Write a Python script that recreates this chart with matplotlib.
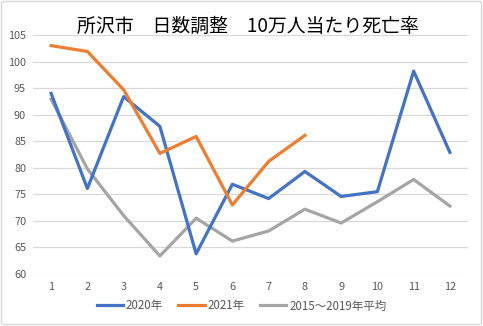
import matplotlib
matplotlib.use("Agg")
import matplotlib.pyplot as plt
from matplotlib.patches import FancyBboxPatch

plt.rcParams['font.family'] = ['Noto Sans CJK JP', 'DejaVu Sans']

months = list(range(1, 13))
tick_labels = [str(m) for m in months]
y2020 = [94.0, 76.1, 93.4, 87.8, 63.8, 76.9, 74.2, 79.3, 74.6, 75.5, 98.2, 82.9]
months2021 = [1, 2, 3, 4, 5, 6, 7, 8]
y2021 = [103.0, 101.9, 94.7, 82.7, 85.9, 73.0, 81.2, 86.1]
yavg = [92.9, 79.8, 71.0, 63.4, 70.5, 66.2, 68.1, 72.2, 69.6, 73.6, 77.8, 72.8]
series_names = ['2020年', '2021年', '2015～2019年平均']
title = '所沢市　日数調整　10万人当たり死亡率'

W, H = 483, 326
fig = plt.figure(figsize=(W / 100, H / 100), dpi=100)
fig.patch.set_facecolor('white')
border = FancyBboxPatch((1.5 / W, 1.5 / H), 1 - 3 / W, 1 - 3 / H,
                        boxstyle='round,pad=0,rounding_size=0.005',
                        transform=fig.transFigure, facecolor='none',
                        edgecolor='#D9D9D9', linewidth=1.0)
fig.patches.append(border)

ax = fig.add_axes([33 / W, 1 - 274 / H, (468 - 33) / W, (274 - 35) / H])
c_blue, c_orange, c_gray = '#4472C4', '#ED7D31', '#A5A5A5'
lw = 2.3
ax.plot(months, y2020, color=c_blue, lw=lw, label=series_names[0], zorder=3)
ax.plot(months2021, y2021, color=c_orange, lw=lw, label=series_names[1], zorder=4)
ax.plot(months, yavg, color=c_gray, lw=lw, label=series_names[2], zorder=2)

ax.set_xlim(0.5, 12.5)
ax.set_ylim(60, 105)
ax.set_yticks(range(60, 106, 5))
ax.set_xticks(months)
ax.set_xticklabels(tick_labels)
ax.grid(axis='y', color='#D9D9D9', lw=0.9)
ax.set_axisbelow(True)
for s in ax.spines.values():
    s.set_visible(False)
ax.tick_params(axis='both', length=0, labelsize=7.8, colors='#595959', pad=6)
ax.tick_params(axis='y', pad=5)

fig.text(248 / W, 1 - 26 / H, title, ha='center', va='center', fontsize=13.6, color='#000000')

leg = fig.legend(loc='center', bbox_to_anchor=(0.5, 1 - 306 / H), ncol=3,
                 frameon=False, fontsize=8.3, handlelength=2.3, columnspacing=1.3,
                 handletextpad=0.25, labelcolor='#595959')

fig.savefig('out.png', dpi=100)
